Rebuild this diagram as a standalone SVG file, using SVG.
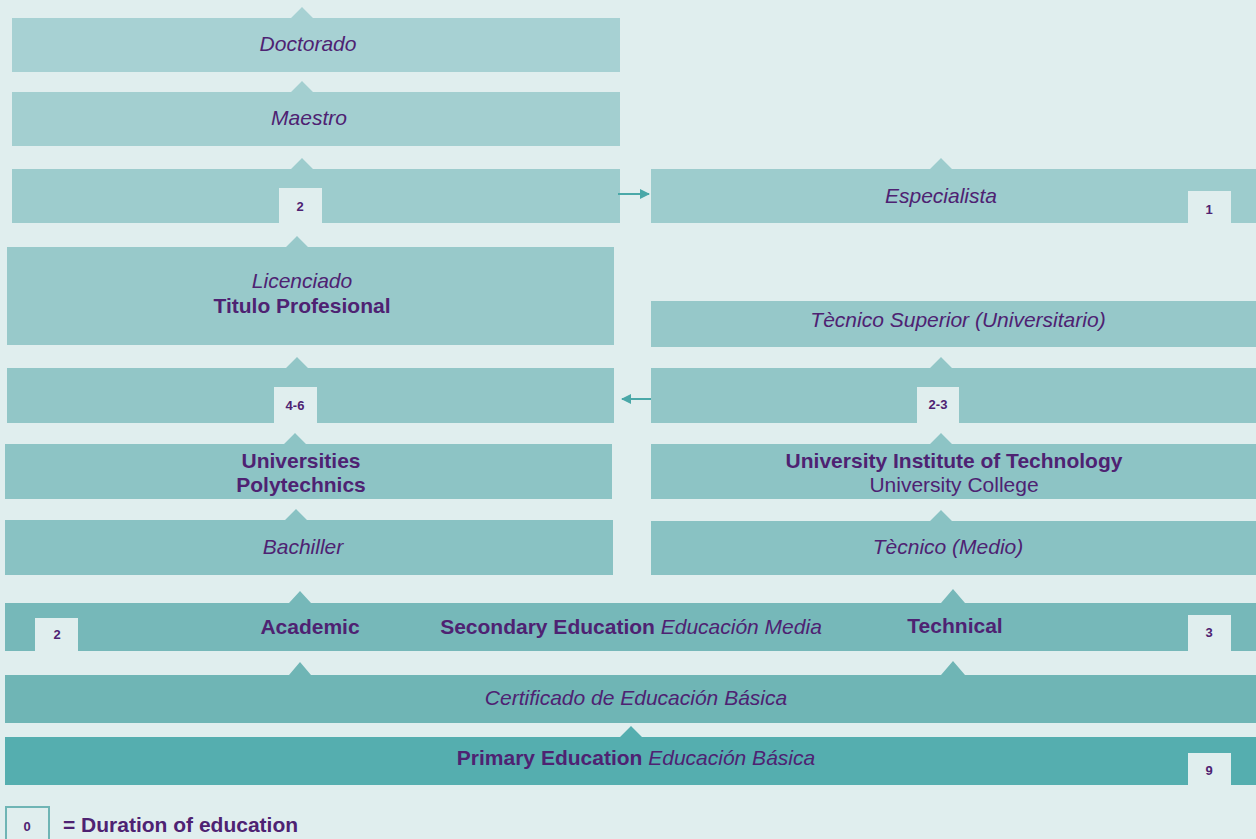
<svg xmlns="http://www.w3.org/2000/svg" width="1256" height="839" viewBox="0 0 1256 839">
<defs>
<style>
text{font-family:"Liberation Sans",Arial,sans-serif;fill:#4e2272;text-anchor:middle}
.it{font-style:italic;font-size:21px}
.b{font-weight:bold;font-size:21px}
.r{font-size:21px}
.d{font-weight:bold;font-size:13px}
.dur{fill:#e0eeee}
.conn{stroke:#4aa8a8;stroke-width:2;fill:none}
</style>
<marker id="ah" viewBox="0 0 10 10" refX="9" refY="5" markerWidth="5" markerHeight="5" orient="auto-start-reverse">
<path d="M0,0 L10,5 L0,10 z" fill="#4aa8a8"/>
</marker>
</defs>
<rect width="1256" height="839" fill="#e0eeee"/>

<g id="doctorado">
<path d="M12,18 H291 L302,7 L313,18 H620 V72 H12 Z" fill="#a7d1d3"/>
<text class="it" x="308" y="51">Doctorado</text>
</g>
<g id="maestro">
<path d="M12,92 H291 L302,81 L313,92 H620 V146 H12 Z" fill="#a3cfd0"/>
<text class="it" x="309" y="125">Maestro</text>
</g>
<g id="postgrad-2">
<path d="M12,169 H291 L302,158 L313,169 H620 V223 H12 Z" fill="#9dcccd"/>
<rect class="dur" x="279" y="188" width="43" height="35"/>
<text class="d" x="300" y="211">2</text>
</g>
<g id="especialista">
<path d="M651,169 H930 L941,158 L952,169 H1256 V223 H651 Z" fill="#9dcccd"/>
<text class="it" x="941" y="203">Especialista</text>
<rect class="dur" x="1188" y="191" width="43" height="33"/>
<text class="d" x="1209" y="214">1</text>
</g>
<g id="licenciado">
<path d="M7,247 H286 L297,236 L308,247 H614 V345 H7 Z" fill="#98c9ca"/>
<text class="it" x="302" y="288">Licenciado</text>
<text class="b" x="302" y="313">Titulo Profesional</text>
</g>
<g id="tecnico-superior">
<rect x="651" y="301" width="605" height="46" fill="#96c8c9"/>
<text class="it" x="958" y="327">Tècnico Superior (Universitario)</text>
</g>
<g id="university-4-6">
<path d="M7,368 H286 L297,357 L308,368 H614 V423 H7 Z" fill="#92c6c7"/>
<rect class="dur" x="274" y="387" width="43" height="36"/>
<text class="d" x="295" y="410">4-6</text>
</g>
<g id="technical-2-3">
<path d="M651,368 H930 L941,357 L952,368 H1256 V423 H651 Z" fill="#92c6c7"/>
<rect class="dur" x="917" y="387" width="42" height="36"/>
<text class="d" x="938" y="409">2-3</text>
</g>
<g id="universities">
<path d="M5,444 H284 L295,433 L306,444 H612 V499 H5 Z" fill="#8dc4c5"/>
<text class="b" x="301" y="468">Universities</text>
<text class="b" x="301" y="492">Polytechnics</text>
</g>
<g id="uit">
<path d="M651,444 H930 L941,433 L952,444 H1256 V499 H651 Z" fill="#8dc4c5"/>
<text class="b" x="954" y="468">University Institute of Technology</text>
<text class="r" x="954" y="492">University College</text>
</g>
<g id="bachiller">
<path d="M5,520 H285 L296,509 L307,520 H613 V575 H5 Z" fill="#89c2c3"/>
<text class="it" x="303" y="554">Bachiller</text>
</g>
<g id="tecnico-medio">
<path d="M651,521 H930 L941,510 L952,521 H1256 V575 H651 Z" fill="#89c2c3"/>
<text class="it" x="948" y="554">Tècnico (Medio)</text>
</g>
<g id="secondary">
<path d="M5,603 H289 L300,591 L311,603 H941 L953,589 L965,603 H1256 V651 H5 Z" fill="#76b8b9"/>
<rect class="dur" x="35" y="618" width="43" height="33"/>
<text class="d" x="57" y="639">2</text>
<text class="b" x="310" y="634">Academic</text>
<text x="631" y="634" class="b">Secondary Education <tspan font-weight="normal" font-style="italic">Educación Media</tspan></text>
<text class="b" x="955" y="633">Technical</text>
<rect class="dur" x="1188" y="615" width="43" height="36"/>
<text class="d" x="1209" y="637">3</text>
</g>
<g id="certificado">
<path d="M5,675 H289 L300,662 L311,675 H941 L953,661 L965,675 H1256 V723 H5 Z" fill="#6fb5b5"/>
<text class="it" x="636" y="705">Certificado de Educación Básica</text>
</g>
<g id="primary">
<path d="M5,737 H620 L631,726 L642,737 H1256 V785 H5 Z" fill="#55aeaf"/>
<text x="636" y="765" class="b">Primary Education <tspan font-weight="normal" font-style="italic">Educación Básica</tspan></text>
<rect class="dur" x="1188" y="753" width="43" height="32"/>
<text class="d" x="1209" y="775">9</text>
</g>
<g id="legend">
<rect x="6" y="807" width="43" height="33" fill="#e0eeee" stroke="#6fb5b5" stroke-width="2"/>
<text class="d" x="27" y="831">0</text>
<text class="b" x="63" y="832" style="text-anchor:start">= Duration of education</text>
</g>
<g id="connectors">
<line class="conn" x1="618" y1="194" x2="649" y2="194" marker-end="url(#ah)"/>
<line class="conn" x1="651" y1="399" x2="622" y2="399" marker-end="url(#ah)"/>
</g>
</svg>
